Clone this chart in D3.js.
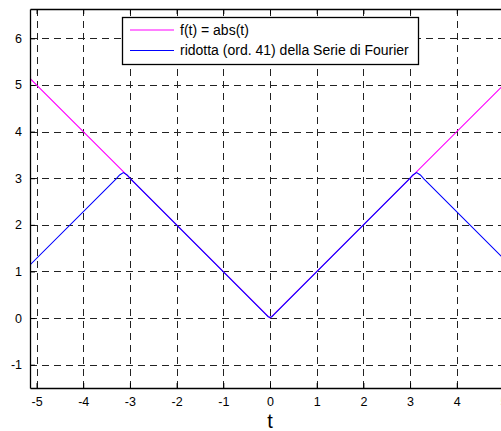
<!doctype html>
<html lang="en">
<head>
<meta charset="utf-8">
<title>abs(t) e serie di Fourier</title>
<script src="https://cdnjs.cloudflare.com/ajax/libs/d3/7.8.5/d3.min.js"></script>
<style>
  body { margin: 0; background: #fff; }
  svg { display: block; font-family: "Liberation Sans", Arial, sans-serif; }
</style>
</head>
<body>
<svg id="chart" width="501" height="431"></svg>
<script>
// data
const xTicks = [-5, -4, -3, -2, -1, 0, 1, 2, 3, 4, 5]
const yTicks = [-1, 0, 1, 2, 3, 4, 5, 6]
const absPts = [[-5.14, 5.14], [0, 0], [5.14, 5.14]]
const fourierPts = [
  [-5.14, 1.14], [-3.30, 2.98], [-3.22, 3.07], [-3.14, 3.12], [-3.06, 3.07], [-2.98, 2.98],
  [-0.10, 0.09], [-0.04, 0.03], [0, 0.015], [0.04, 0.03], [0.10, 0.09],
  [2.98, 2.98], [3.06, 3.07], [3.14, 3.12], [3.22, 3.07], [3.30, 2.98], [5.14, 1.14]
]
const legendLabels = ["f(t) = abs(t)", "ridotta (ord. 41) della Serie di Fourier"]
const colors = ["#ff00ff", "#0000ff"]

const svg = d3.select("#chart")
const m = { left: 30, top: 9, right: 510, bottom: 388 }

const x = d3.scaleLinear().domain([-5.14, 5.14]).range([m.left, m.right])
const y = d3.scaleLinear().domain([-1.5, 6.63]).range([m.bottom, m.top])
const fmt = d => String(d)   // plain hyphen minus, like the original

svg.append("clipPath").attr("id", "clip")
  .append("rect")
  .attr("x", m.left).attr("y", m.top)
  .attr("width", m.right - m.left).attr("height", m.bottom - m.top)

// grid
const grid = svg.append("g")
  .attr("stroke", "#222").attr("stroke-width", 1)
  .attr("stroke-dasharray", "7,5").attr("shape-rendering", "crispEdges")
grid.selectAll("line.gx").data(xTicks).join("line").attr("class", "gx")
  .attr("x1", d => Math.round(x(d)) + 0.5).attr("x2", d => Math.round(x(d)) + 0.5)
  .attr("y1", m.top).attr("y2", m.bottom)
grid.selectAll("line.gy").data(yTicks).join("line").attr("class", "gy")
  .attr("y1", d => Math.round(y(d)) + 0.5).attr("y2", d => Math.round(y(d)) + 0.5)
  .attr("x1", m.left).attr("x2", m.right)

// curves
const line = d3.line().x(d => x(d[0])).y(d => y(d[1]))
const plot = svg.append("g").attr("clip-path", "url(#clip)")
plot.append("path").datum(absPts).attr("d", line)
  .attr("fill", "none").attr("stroke", colors[0]).attr("stroke-width", 1.1)
plot.append("path").datum(fourierPts).attr("d", line)
  .attr("fill", "none").attr("stroke", colors[1]).attr("stroke-width", 1.1)

// axes (MATLAB style, ticks inside, box)
const tl = 5
const axB = svg.append("g").attr("transform", `translate(0,${m.bottom})`)
  .call(d3.axisBottom(x).tickValues(xTicks).tickFormat(fmt).tickSizeInner(-tl).tickSizeOuter(0).tickPadding(9))
const axT = svg.append("g").attr("transform", `translate(0,${m.top})`)
  .call(d3.axisTop(x).tickValues(xTicks).tickSizeInner(-tl).tickSizeOuter(0).tickFormat(""))
const axL = svg.append("g").attr("transform", `translate(${m.left},0)`)
  .call(d3.axisLeft(y).tickValues(yTicks).tickFormat(fmt).tickSizeInner(-tl).tickSizeOuter(0).tickPadding(8))
;[axB, axT, axL].forEach(a => {
  a.select(".domain").attr("stroke", "#000").attr("stroke-width", 1.3)
  a.selectAll(".tick line").attr("stroke", "#000")
  a.selectAll("text").attr("font-size", 12.5).attr("fill", "#000")
    .attr("font-family", "'Liberation Sans', Arial, sans-serif")
})

svg.append("text").text("t")
  .attr("x", x(0)).attr("y", 428)
  .attr("text-anchor", "middle").attr("font-size", 20)

// legend
const lg = svg.append("g")
lg.append("rect").attr("x", 122.5).attr("y", 17.5).attr("width", 296).attr("height", 47)
  .attr("fill", "#fff").attr("stroke", "#000").attr("stroke-width", 1.3)
legendLabels.forEach((lab, i) => {
  const yy = 30 + i * 20.5
  lg.append("line").attr("x1", 130).attr("x2", 174).attr("y1", yy).attr("y2", yy)
    .attr("stroke", colors[i]).attr("stroke-width", 1)
  lg.append("text").text(lab).attr("x", 180).attr("y", yy + 4.8).attr("font-size", 14)
})
</script>
</body>
</html>
